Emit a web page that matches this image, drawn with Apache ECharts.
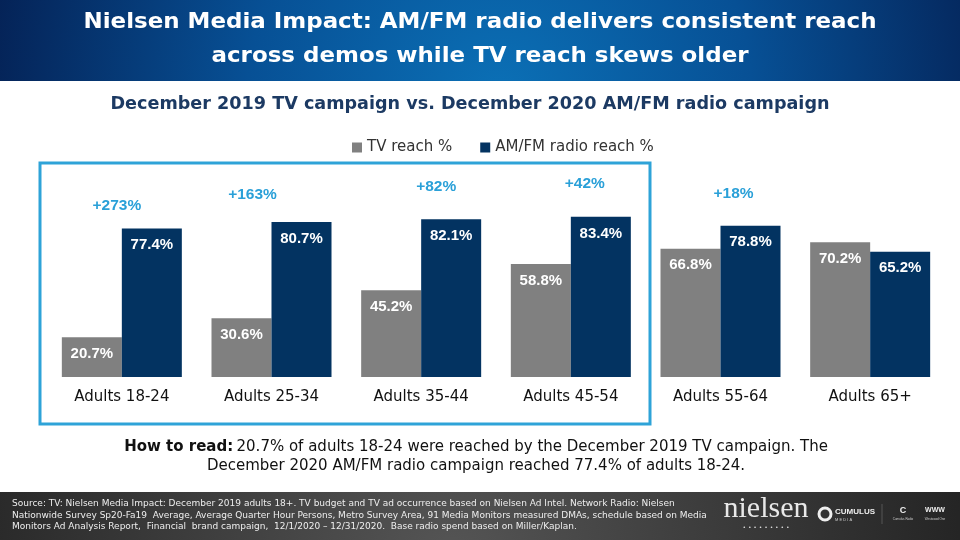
<!DOCTYPE html>
<html>
<head>
<meta charset="utf-8">
<script src="https://cdn.jsdelivr.net/npm/echarts@6/dist/echarts.min.js"></script>
<style>
html,body{margin:0;padding:0;background:#fff;}
#chart{width:960px;height:540px;}
</style>
</head>
<body>
<div id="chart"></div>
<script>
var categories = ['Adults 18-24', 'Adults 25-34', 'Adults 35-44', 'Adults 45-54', 'Adults 55-64', 'Adults 65+'];
var tvReach = [20.7, 30.6, 45.2, 58.8, 66.8, 70.2];
var radioReach = [77.4, 80.7, 82.1, 83.4, 78.8, 65.2];
var liftLabels = ['+273%', '+163%', '+82%', '+42%', '+18%', ''];
var seriesNames = ['TV reach %', 'AM/FM radio reach %'];

// styling: label offsets for lift annotations
var liftOffsets = [[-5, -10], [-19, -14], [15, -20], [14, -20], [13, -19], [0, 0]];

var chart = echarts.init(document.getElementById('chart'), null, {renderer: 'canvas'});
var FONT = "'DejaVu Sans', sans-serif";
var BFONT = "'Liberation Sans', Arial, sans-serif";

function fitScale(text, font, target) {
  var c = document.createElement('canvas').getContext('2d');
  c.font = font;
  return target / c.measureText(text).width;
}
var titleFont = "bold 21px 'DejaVu Sans', sans-serif";
var title1 = 'Nielsen Media Impact: AM/FM radio delivers consistent reach';
var title2 = 'across demos while TV reach skews older';
var tScale = fitScale(title1, titleFont, 793);

var liftStyle = {color: '#2aa0d8', fontWeight: 'bold', fontSize: 15.5, fontFamily: BFONT};
var liftData = radioReach.map(function (v, i) {
  return {
    value: v,
    label: Object.assign({show: liftLabels[i] !== '', formatter: liftLabels[i], offset: liftOffsets[i]}, liftStyle)
  };
});

var option = {
  animation: false,
  textStyle: {fontFamily: FONT},
  legend: {
    data: seriesNames,
    top: 135, left: 347,
    itemWidth: 10, itemHeight: 10, itemGap: 28, itemStyle: {borderWidth: 0},
    icon: 'rect',
    textStyle: {color: '#333', fontSize: 15, fontFamily: FONT}
  },
  grid: {left: 47, width: 898, top: 185, height: 192, containLabel: false},
  xAxis: {
    type: 'category', data: categories,
    axisLine: {show: false}, axisTick: {show: false},
    axisLabel: {color: '#111', fontSize: 15, margin: 13, fontFamily: FONT}
  },
  yAxis: {type: 'value', min: 0, max: 100, show: false},
  series: [
    {
      name: seriesNames[0], type: 'bar', data: tvReach, barWidth: 60, barGap: '0%',
      itemStyle: {color: '#808080'},
      label: {show: true, position: 'insideTop', distance: 9, color: '#fff', fontWeight: 'bold', fontSize: 15, fontFamily: BFONT,
        formatter: function (p) { return p.value.toFixed(1) + '%'; }}
    },
    {
      name: seriesNames[1], type: 'bar', data: radioReach, barWidth: 60,
      itemStyle: {color: '#033361'},
      label: {show: true, position: 'insideTop', distance: 9, color: '#fff', fontWeight: 'bold', fontSize: 15, fontFamily: BFONT,
        formatter: function (p) { return p.value.toFixed(1) + '%'; }}
    },
    {
      name: 'lift', type: 'scatter', data: liftData, symbolSize: 0, silent: true,
      itemStyle: {opacity: 1},
      label: Object.assign({show: true, position: 'top'}, liftStyle)
    }
  ],
  graphic: [
    {type: 'rect', left: 0, top: 0, shape: {width: 960, height: 81}, z: -1,
      style: {fill: new echarts.graphic.RadialGradient(500, 95, 560, [
        {offset: 0, color: '#0b70b6'}, {offset: 0.45, color: '#075095'}, {offset: 1, color: '#041a4b'}], true)}},
    {type: 'text', x: 480, y: 23, z: 5, scaleX: tScale,
      style: {text: title1, fill: '#fff', font: titleFont, align: 'center', verticalAlign: 'middle'}},
    {type: 'text', x: 480, y: 57, z: 5, scaleX: tScale,
      style: {text: title2, fill: '#fff', font: titleFont, align: 'center', verticalAlign: 'middle'}},
    {type: 'text', x: 470, y: 104, z: 5,
      style: {text: 'December 2019 TV campaign vs. December 2020 AM/FM radio campaign', fill: '#1c3a63',
        font: "bold 17.6px 'DejaVu Sans', sans-serif", align: 'center', verticalAlign: 'middle'}},
    {type: 'rect', shape: {x: 40, y: 163, width: 610, height: 261}, z: 3,
      style: {fill: 'none', stroke: '#2ea3d8', lineWidth: 3}},
    {type: 'text', x: 476, y: 447, z: 5,
      style: {rich: {b: {fontWeight: 'bold', fontSize: 15, fill: '#111', fontFamily: FONT}, n: {fontSize: 15, fill: '#111', fontFamily: FONT}},
        text: '{b|How to read:} {n|20.7% of adults 18-24 were reached by the December 2019 TV campaign. The}',
        align: 'center', verticalAlign: 'middle'}},
    {type: 'text', x: 476, y: 466, z: 5,
      style: {text: 'December 2020 AM/FM radio campaign reached 77.4% of adults 18-24.', fill: '#111',
        font: "15px 'DejaVu Sans', sans-serif", align: 'center', verticalAlign: 'middle'}},
    {type: 'rect', shape: {x: 0, y: 492, width: 960, height: 48}, z: -1,
      style: {fill: new echarts.graphic.RadialGradient(450, 560, 520, [
        {offset: 0, color: '#555555'}, {offset: 1, color: '#242424'}], true)}},
    {type: 'text', x: 12, y: 504, z: 5,
      style: {text: 'Source: TV: Nielsen Media Impact: December 2019 adults 18+. TV budget and TV ad occurrence based on Nielsen Ad Intel. Network Radio: Nielsen', fill: '#eee',
        font: "9px 'DejaVu Sans', sans-serif", verticalAlign: 'middle'}},
    {type: 'text', x: 12, y: 515.5, z: 5,
      style: {text: 'Nationwide Survey Sp20-Fa19  Average, Average Quarter Hour Persons, Metro Survey Area, 91 Media Monitors measured DMAs, schedule based on Media', fill: '#eee',
        font: "9px 'DejaVu Sans', sans-serif", verticalAlign: 'middle'}},
    {type: 'text', x: 12, y: 527, z: 5,
      style: {text: 'Monitors Ad Analysis Report,  Financial  brand campaign,  12/1/2020 – 12/31/2020.  Base radio spend based on Miller/Kaplan.', fill: '#eee',
        font: "9px 'DejaVu Sans', sans-serif", verticalAlign: 'middle'}},
    {type: 'text', x: 766, y: 509, z: 5,
      style: {text: 'nielsen', fill: '#e8e8e8', font: "30px 'Liberation Serif', 'DejaVu Serif', serif", align: 'center', verticalAlign: 'middle'}},
    {type: 'text', x: 766, y: 527, z: 5,
      style: {text: '•  •  •  •  •  •  •  •  •', fill: '#ddd', font: "6px 'Liberation Sans', Arial, sans-serif", align: 'center', verticalAlign: 'middle'}},
    {type: 'circle', shape: {cx: 825, cy: 514, r: 6}, z: 5, style: {fill: 'none', stroke: '#eee', lineWidth: 3}},
    {type: 'text', x: 835, y: 512, z: 5,
      style: {text: 'CUMULUS', fill: '#eee', font: "bold 8px 'Liberation Sans', Arial, sans-serif", verticalAlign: 'middle'}},
    {type: 'text', x: 835, y: 520, z: 5,
      style: {text: 'M E D I A', fill: '#ccc', font: "4px 'Liberation Sans', Arial, sans-serif", verticalAlign: 'middle'}},
    {type: 'line', shape: {x1: 882, y1: 504, x2: 882, y2: 524}, z: 5, style: {stroke: '#555', lineWidth: 1}},
    {type: 'text', x: 903, y: 511, z: 5,
      style: {text: 'C', fill: '#eee', font: "bold 9px 'Liberation Sans', Arial, sans-serif", align: 'center', verticalAlign: 'middle'}},
    {type: 'text', x: 903, y: 519, z: 5,
      style: {text: 'Cumulus Radio', fill: '#ccc', font: "3px 'Liberation Sans', Arial, sans-serif", align: 'center', verticalAlign: 'middle'}},
    {type: 'text', x: 935, y: 510, z: 5,
      style: {text: 'WWW', fill: '#eee', font: "bold 7px 'Liberation Sans', Arial, sans-serif", align: 'center', verticalAlign: 'middle'}},
    {type: 'text', x: 935, y: 519, z: 5,
      style: {text: 'Westwood One', fill: '#ccc', font: "3px 'Liberation Sans', Arial, sans-serif", align: 'center', verticalAlign: 'middle'}}
  ]
};
chart.setOption(option);
</script>
</body>
</html>
